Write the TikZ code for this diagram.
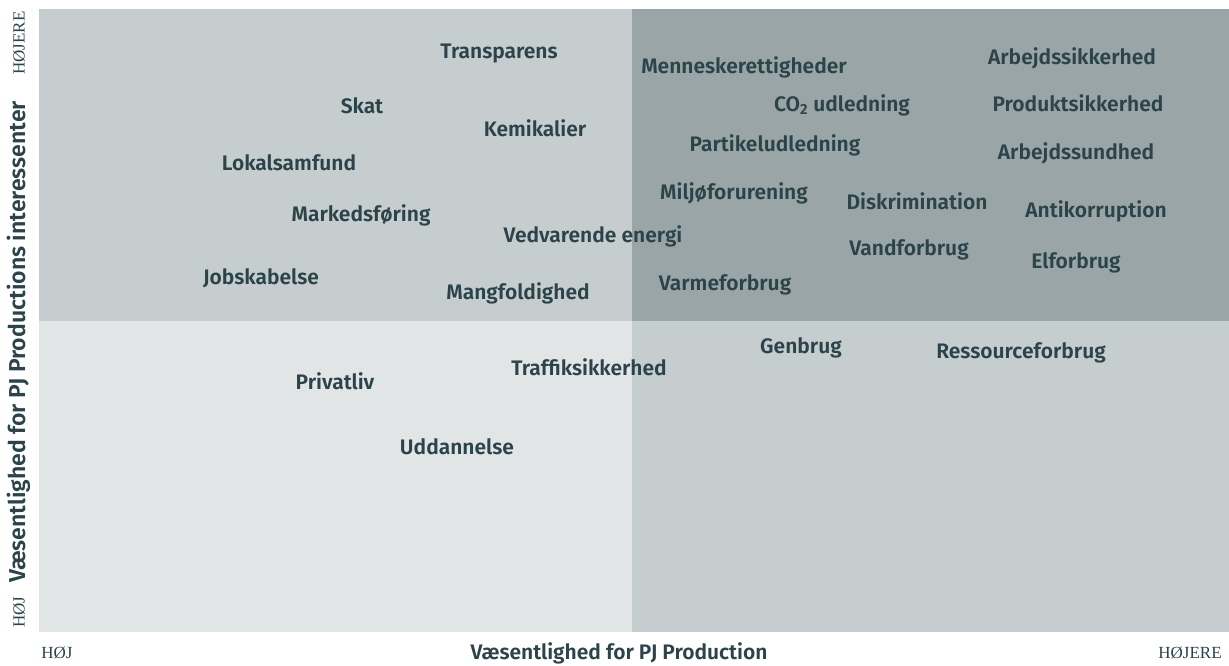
\documentclass[tikz,border=0pt]{standalone}
\usepackage{fontspec}
\setmainfont{Fira Sans}[BoldFont={Fira Sans SemiBold}]
\newfontfamily\endfont{Liberation Serif}
\definecolor{pjtext}{RGB}{43,67,73}
\definecolor{pjlight}{RGB}{225,229,230}
\definecolor{pjmid}{RGB}{197,205,207}
\definecolor{pjdark}{RGB}{153,165,167}

\begin{document}
\begin{tikzpicture}[x=1pt,y=-1pt]
          \tikzstyle{every node}=[font=\fontsize{21}{23}\selectfont\bfseries, text=pjtext, inner sep=0pt]
          \tikzstyle{axisend}=[font=\endfont\fontsize{17}{19}\selectfont]
          \useasboundingbox (0,0) rectangle (1229,665);
          % quadranter
          \fill[pjmid] (39,9) rectangle (632,321);
          \fill[pjdark] (632,9) rectangle (1229,321);
          \fill[pjlight] (39,321) rectangle (632,632);
          \fill[pjmid] (632,321) rectangle (1229,632);
            \node (tr) at (499, 54) {Transparens};
            \node (sk) at (362, 106) {Skat};
            \node (ke) at (535, 128) {Kemikalier};
            \node (lo) at (289, 163) {Lokalsamfund};
            \node (ma) at (361, 215) {Markedsføring};
            \node (ve) at (593, 236) {Vedvarende energi};
            \node (jo) at (261, 278) {Jobskabelse};
            \node (mf) at (518, 293) {Mangfoldighed};
            \node (me) at (744, 67) {Menneskerettigheder};
            \node (co) at (842, 105) {CO\textsubscript{2} udledning};
            \node (pa) at (775, 145) {Partikeludledning};
            \node (mi) at (734, 193) {Miljøforurening};
            \node (di) at (917, 201) {Diskrimination};
            \node (va) at (909, 250) {Vandforbrug};
            \node (vm) at (725, 285) {Varmeforbrug};
            \node (as) at (1072, 58) {Arbejdssikkerhed};
            \node (ps) at (1078, 103) {Produktsikkerhed};
            \node (au) at (1076, 153) {Arbejdssundhed};
            \node (an) at (1096, 211) {Antikorruption};
            \node (el) at (1076, 263) {Elforbrug};
            \node (ge) at (801, 348) {Genbrug};
            \node (re) at (1021, 353) {Ressourceforbrug};
            \node (tf) at (589, 367) {Traffiksikkerhed};
            \node (pr) at (335, 381) {Privatliv};
            \node (ud) at (457, 447) {Uddannelse};
            % akser
            \node[rotate=90, font=\fontsize{23}{25}\selectfont\bfseries] (ya) at (19, 342) {Væsentlighed for PJ Productions interessenter};
            \node[axisend, rotate=90] (yh) at (19, 43) {HØJERE};
            \node[axisend, rotate=90] (yl) at (19, 612) {HØJ};
            \node (xa) at (619, 653) {Væsentlighed for PJ Production};
            \node[axisend] (xl) at (57, 653) {HØJ};
            \node[axisend] (xh) at (1190, 653) {HØJERE};
        \end{tikzpicture}
\end{document}
